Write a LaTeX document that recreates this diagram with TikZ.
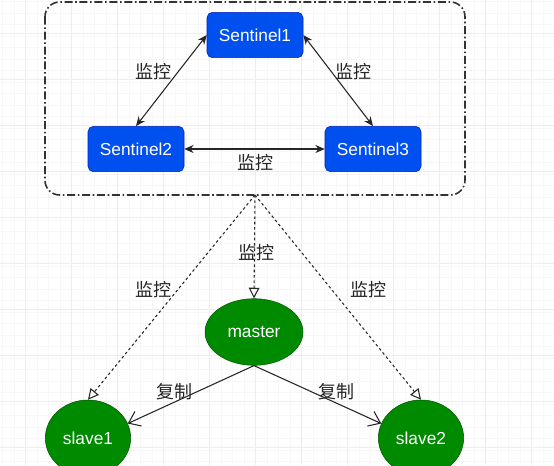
\documentclass[tikz,border=0pt]{standalone}
\usepackage{fontspec}
\setmainfont{Liberation Sans}
\newfontfamily\cjk{Noto Sans CJK SC}
\usepackage{xcolor}
\usetikzlibrary{arrows.meta, shapes.geometric, positioning}
\definecolor{sentfill}{HTML}{0050EF}
\definecolor{sentline}{HTML}{001DBC}
\definecolor{redisfill}{HTML}{008A00}
\definecolor{redisline}{HTML}{005700}

\tikzset{
  sentinel/.style={draw=sentline, fill=sentfill, text=white, rounded corners=4pt,
    minimum width=72pt, minimum height=34pt, inner sep=0pt,
    font=\fontsize{13}{15}\selectfont},
  redis/.style={ellipse, draw=redisline, fill=redisfill, text=white, inner sep=0pt,
    font=\fontsize{13}{15}\selectfont},
  watch/.style={<->, >={Stealth[length=7pt, width=6pt]}, thick, black!85},
  monitor/.style={-{Triangle[open, length=8pt, width=8pt]}, thick, black!85,
    dash pattern=on 2pt off 2pt},
  copy/.style={-{Straight Barb[length=8pt, width=12pt]}, thick, black!85},
  lbl/.style={font=\cjk\fontsize{13.5}{15}\selectfont, text=black!85, inner sep=1pt}
}

\begin{document}
\begin{tikzpicture}[x=0.75pt, y=-0.75pt]
  \useasboundingbox (0,0) rectangle (554,465);
  % background grid
  \fill[white] (0,0) rectangle (554,465);
  \foreach \gx in {2.5,14,...,554} \draw[gray!6] (\gx,0) -- (\gx,465);
  \foreach \gy in {1.5,13,...,465} \draw[gray!6] (0,\gy) -- (554,\gy);
  \foreach \gx in {25,71,...,554} \draw[gray!14] (\gx,0) -- (\gx,465);
  \foreach \gy in {33,79,...,465} \draw[gray!14] (0,\gy) -- (554,\gy);

  % sentinel group
  \draw[very thick, black!80, rounded corners=11pt,
    dash pattern=on 6pt off 2pt on 1.2pt off 2pt] (45,2) rectangle (465,195);
  \coordinate (group) at (255,195);

  \node[sentinel] (s1) at (255,35) {Sentinel1};
  \node[sentinel] (s2) at (136,149) {Sentinel2};
  \node[sentinel] (s3) at (373,149) {Sentinel3};

  \draw[watch] (s1.west) -- (s2.north);
  \draw[watch] (s1.east) -- (s3.north);
  \draw[watch] (s2.east) -- (s3.west);
  \node[lbl] at (153,72) {监控};
  \node[lbl] at (353,72) {监控};
  \node[lbl] at (255,163) {监控};

  % redis nodes
  \node[redis, minimum width=73.5pt, minimum height=50pt] (master) at (254,332) {master};
  \node[redis, minimum width=64pt, minimum height=57pt] (slave1) at (88,438) {slave1};
  \node[redis, minimum width=64pt, minimum height=57pt] (slave2) at (421,438) {slave2};

  \draw[monitor] (group) -- (master.north);
  \draw[monitor] (group) -- (slave1.north);
  \draw[monitor] (group) -- (slave2.north);
  \node[lbl] at (256,253) {监控};
  \node[lbl] at (153,290) {监控};
  \node[lbl] at (368,290) {监控};

  \draw[copy] (master.south) -- (slave1.20);
  \draw[copy] (master.south) -- (slave2.160);
  \node[lbl] at (174,392) {复制};
  \node[lbl] at (336,392) {复制};
\end{tikzpicture}
\end{document}
